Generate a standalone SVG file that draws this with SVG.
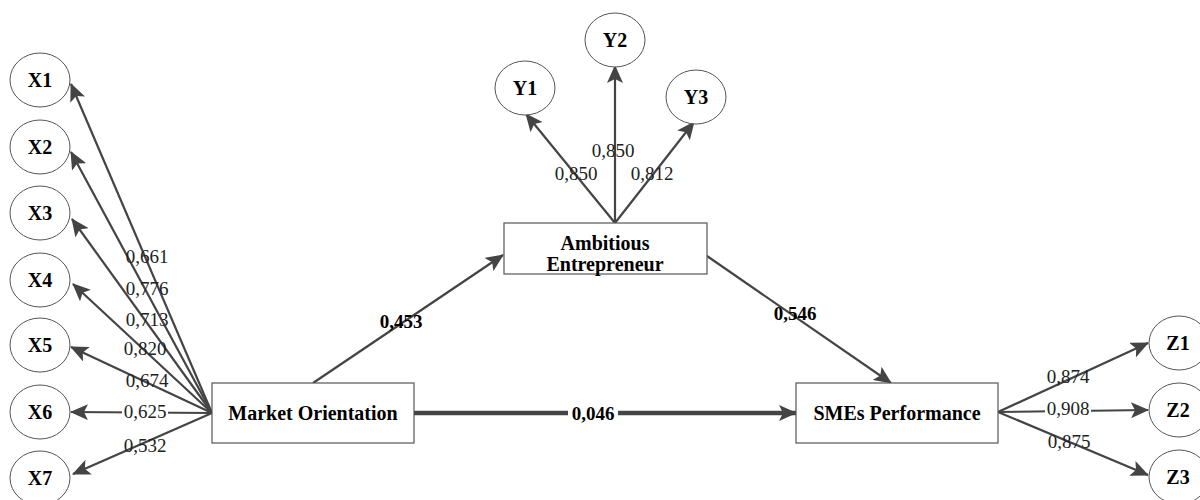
<svg xmlns="http://www.w3.org/2000/svg" width="1200" height="500" viewBox="0 0 1200 500">
<style>
.ell{fill:#fff;stroke:#555;stroke-width:1}
.box{fill:#fff;stroke:#555;stroke-width:1.2}
.nl{font-family:"Liberation Serif",serif;font-weight:bold;font-size:20px;fill:#000;text-anchor:middle}
.ld{font-family:"Liberation Serif",serif;font-size:19px;fill:#222;text-anchor:middle}
.bl{font-family:"Liberation Serif",serif;font-weight:bold;font-size:19px;fill:#000;text-anchor:middle}
.c{stroke:#444;stroke-width:2.2;fill:none;marker-end:url(#ah)}
.ct{stroke:#444;stroke-width:4.5;fill:none;marker-end:url(#ah)}
</style>
<defs>
<marker id="ah" markerUnits="userSpaceOnUse" markerWidth="20" markerHeight="16" refX="17" refY="8" orient="auto">
<path d="M0,0 L18,8 L0,16 L4,8 z" fill="#444"/>
</marker>
</defs>
<rect width="1200" height="500" fill="#fff"/>
<g id="connectors">
<line class="c" x1="212" y1="413" x2="71" y2="84"/>
<line class="c" x1="212" y1="413" x2="71" y2="152"/>
<line class="c" x1="212" y1="413" x2="72" y2="219"/>
<line class="c" x1="212" y1="413" x2="73" y2="284"/>
<line class="c" x1="212" y1="413" x2="71" y2="347"/>
<line class="c" x1="212" y1="413" x2="71" y2="412"/>
<line class="c" x1="212" y1="413" x2="73" y2="474"/>
<line class="c" x1="615" y1="223" x2="526" y2="114"/>
<line class="c" x1="615" y1="223" x2="615" y2="66"/>
<line class="c" x1="615" y1="223" x2="694" y2="122"/>
<line class="c" x1="313" y1="383" x2="503" y2="255"/>
<line class="c" x1="707" y1="256" x2="891" y2="383"/>
<line class="ct" x1="414" y1="413" x2="796" y2="413"/>
<line class="c" x1="998" y1="412" x2="1148" y2="343"/>
<line class="c" x1="998" y1="412" x2="1148" y2="410"/>
<line class="c" x1="998" y1="412" x2="1148" y2="475"/>
<rect x="122" y="403" width="46" height="18" fill="#fff"/>
<rect x="1045" y="401" width="46" height="18" fill="#fff"/>
<rect x="568" y="403" width="50" height="20" fill="#fff"/>
<text class="ld" x="147" y="263">0,661</text>
<text class="ld" x="147" y="295">0,776</text>
<text class="ld" x="147" y="326">0,713</text>
<text class="ld" x="145" y="355">0,820</text>
<text class="ld" x="147" y="387">0,674</text>
<text class="ld" x="145" y="418">0,625</text>
<text class="ld" x="145" y="452">0,532</text>
<text class="ld" x="576" y="180">0,850</text>
<text class="ld" x="613" y="157">0,850</text>
<text class="ld" x="652" y="180">0,812</text>
<text class="ld" x="1068" y="383">0,874</text>
<text class="ld" x="1068" y="415">0,908</text>
<text class="ld" x="1069" y="448">0,875</text>
<text class="bl" x="401" y="328">0,453</text>
<text class="bl" x="795" y="320">0,546</text>
<text class="bl" x="593" y="420">0,046</text>
</g>
<g id="X1"><ellipse class="ell" cx="40" cy="80" rx="30" ry="27"/><text class="nl" x="40" y="87">X1</text></g>
<g id="X2"><ellipse class="ell" cx="40" cy="147" rx="30" ry="27"/><text class="nl" x="40" y="154">X2</text></g>
<g id="X3"><ellipse class="ell" cx="40" cy="213" rx="30" ry="27"/><text class="nl" x="40" y="220">X3</text></g>
<g id="X4"><ellipse class="ell" cx="40" cy="280" rx="30" ry="27"/><text class="nl" x="40" y="287">X4</text></g>
<g id="X5"><ellipse class="ell" cx="40" cy="345" rx="30" ry="27"/><text class="nl" x="40" y="352">X5</text></g>
<g id="X6"><ellipse class="ell" cx="40" cy="412" rx="30" ry="27"/><text class="nl" x="40" y="419">X6</text></g>
<g id="X7"><ellipse class="ell" cx="40" cy="478" rx="30" ry="27"/><text class="nl" x="40" y="485">X7</text></g>
<g id="Y1"><ellipse class="ell" cx="525" cy="88" rx="30" ry="27"/><text class="nl" x="525" y="95">Y1</text></g>
<g id="Y2"><ellipse class="ell" cx="615" cy="40" rx="30" ry="27"/><text class="nl" x="615" y="47">Y2</text></g>
<g id="Y3"><ellipse class="ell" cx="696" cy="97" rx="30" ry="27"/><text class="nl" x="696" y="104">Y3</text></g>
<g id="Z1"><ellipse class="ell" cx="1179" cy="343" rx="30" ry="27"/><text class="nl" x="1178" y="350">Z1</text></g>
<g id="Z2"><ellipse class="ell" cx="1179" cy="410" rx="30" ry="27"/><text class="nl" x="1178" y="417">Z2</text></g>
<g id="Z3"><ellipse class="ell" cx="1179" cy="477" rx="30" ry="27"/><text class="nl" x="1178" y="484">Z3</text></g>
<g id="MarketOrientation"><rect class="box" x="212" y="383" width="202" height="60"/><text class="nl" x="313" y="420">Market Orientation</text></g>
<g id="AmbitiousEntrepreneur"><rect class="box" x="504" y="223" width="203" height="51"/><text class="nl" x="605" y="250">Ambitious</text><text class="nl" x="605" y="271">Entrepreneur</text></g>
<g id="SMEsPerformance"><rect class="box" x="796" y="383" width="202" height="60"/><text class="nl" x="897" y="420">SMEs Performance</text></g>
</svg>
